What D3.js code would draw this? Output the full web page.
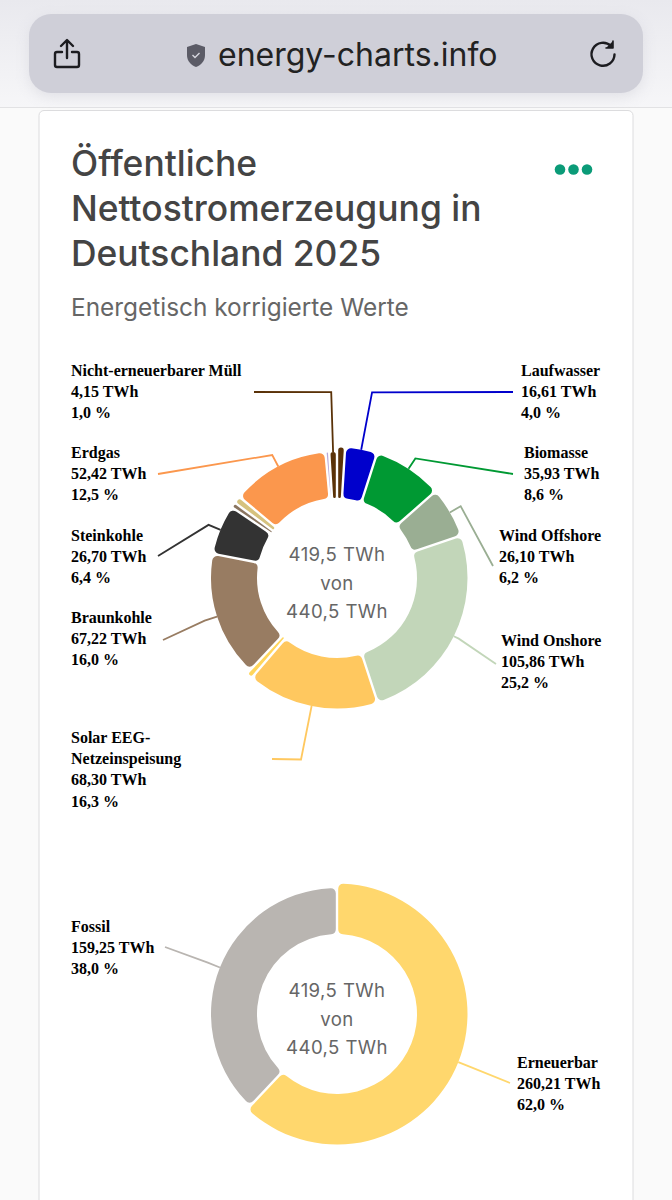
<!DOCTYPE html>
<html lang="de">
<head>
<meta charset="utf-8">
<title>Öffentliche Nettostromerzeugung in Deutschland 2025</title>
<script src="https://cdn.jsdelivr.net/npm/d3@7"></script>
<style>
  html, body { margin: 0; padding: 0; background: #fafafa; }
  svg { display: block; }
  .ui { font-family: Inter, "Noto Sans", sans-serif; }
  .label { font-family: "Liberation Serif", serif; font-weight: bold; font-size: 16px; fill: #000; }
</style>
</head>
<body>
<div id="chart"></div>
<script>
// values, the unlabelled slivers are estimates
var mixCategories = ["Müll biogen", "Laufwasser", "Biomasse", "Wind Offshore", "Wind Onshore", "Solar EEG-Netzeinspeisung", "Geothermie", "Braunkohle", "Steinkohle", "Öl", "Kuppelgase", "Erdgas", "Andere", "Nicht-erneuerbarer Müll"];
var mixValues = [4.15, 16.61, 35.93, 26.10, 105.86, 68.30, 3.26, 67.22, 26.70, 2.86, 3.90, 52.42, 2.00, 4.15];
var mixShares = [1.0, 4.0, 8.6, 6.2, 25.2, 16.3, 0.8, 16.0, 6.4, 0.7, 0.9, 12.5, 0.5, 1.0];
var mixRenewable = [true, true, true, true, true, true, true, false, false, false, false, false, false, false];
var mixColors = ["#5a3208", "#0000cc", "#009933", "#9aae93", "#c2d6b9", "#ffc85f", "#ffd65c", "#987c62", "#333333", "#8a7560", "#d6c27e", "#fb974d", "#b9a8d8", "#5a3208"];

var sumCategories = ["Erneuerbar", "Fossil"];
var sumValues = [260.21, 159.25];
var sumShares = [62.0, 38.0];
var sumRenewable = [true, false];
var sumColors = ["#ffd76d", "#b9b5b1"];

var centerLines = ["419,5 TWh", "von", "440,5 TWh"];
var titleLines = ["Öffentliche", "Nettostromerzeugung in", "Deutschland 2025"];

// where each label sits and how its leader runs
var mixLayout = {
  "Nicht-erneuerbarer Müll": { x: 71, y: 376, elbow: 186, endX: 254, endY: 392, lines: ["Nicht-erneuerbarer Müll"] },
  "Erdgas": { x: 71, y: 458, elbow: 139, endX: 158, endY: 474 },
  "Steinkohle": { x: 71, y: 541, elbow: 139, endX: 158, endY: 556 },
  "Braunkohle": { x: 71, y: 623, elbow: 139, endX: 163, endY: 640 },
  "Solar EEG-Netzeinspeisung": { x: 71, y: 743, elbow: 185, endX: 272, endY: 759, lines: ["Solar EEG-", "Netzeinspeisung"] },
  "Laufwasser": { x: 521, y: 376, elbow: 189, endX: 513, endY: 392 },
  "Biomasse": { x: 524, y: 458, elbow: 143, endX: 513, endY: 474 },
  "Wind Offshore": { x: 499, y: 541, elbow: 143, endX: 493, endY: 566 },
  "Wind Onshore": { x: 501, y: 646, elbow: 136, endX: 496, endY: 664 }
};
var sumLayout = {
  "Fossil": { x: 71, y: 932, elbow: 139, endX: 165, endY: 947 },
  "Erneuerbar": { x: 517, y: 1068, elbow: 144, endX: 510, endY: 1083 }
};

var width = 672, height = 1200;
var innerR = 80, outerRenewable = 130.5, outerFossil = 126;
var labelStep = 21.2;

var de = d3.formatLocale({ decimal: ",", thousands: ".", grouping: [3], currency: ["", " €"] });
var fmtValue = de.format(".2f"), fmtShare = de.format(".1f");

var svg = d3.select("#chart").append("svg")
  .attr("width", width)
  .attr("height", height)
  .attr("viewBox", "0 0 " + width + " " + height);

drawChrome();
drawDonut(mixCategories, mixValues, mixShares, mixRenewable, mixColors, mixLayout, 337, 578);
drawDonut(sumCategories, sumValues, sumShares, sumRenewable, sumColors, sumLayout, 337, 1014);

function drawDonut(categories, values, shares, renewable, colors, layout, cx, cy) {
  var pie = d3.pie().sort(null).value(function(d) { return d; });
  var slices = pie(values);
  var arc = d3.arc()
    .innerRadius(innerR)
    .outerRadius(function(d) { return renewable[d.index] ? outerRenewable : outerFossil; })
    .cornerRadius(5)
    .padAngle(0.024)
    .padRadius(100);

  var g = svg.append("g").attr("transform", "translate(" + cx + "," + cy + ")");

  g.selectAll("path.slice")
    .data(slices)
    .enter()
    .append("path")
    .attr("class", "slice")
    .attr("d", arc)
    .attr("fill", function(d) { return colors[d.index]; });

  // leaders start on the rim at the slice's middle angle
  var rim = function(angle, r) {
    return [r * Math.sin(angle), -r * Math.cos(angle)];
  };
  var line = d3.line();

  slices.forEach(function(d) {
    var name = categories[d.index];
    var spot = layout[name];
    if (!spot) return;
    var mid = (d.startAngle + d.endAngle) / 2;
    var r = renewable[d.index] ? outerRenewable : outerFossil;

    g.append("path")
      .attr("d", line([rim(mid, r), rim(mid, spot.elbow), [spot.endX - cx, spot.endY - cy]]))
      .attr("fill", "none")
      .attr("stroke", colors[d.index])
      .attr("stroke-width", 1.8);

    var text = (spot.lines || [name]).concat([fmtValue(values[d.index]) + " TWh", fmtShare(shares[d.index]) + " %"]);
    svg.append("text")
      .attr("class", "label")
      .selectAll("tspan")
      .data(text)
      .enter()
      .append("tspan")
      .attr("x", spot.x)
      .attr("y", function(t, i) { return spot.y + i * labelStep; })
      .text(function(t) { return t; });
  });

  [-24, 5, 33].forEach(function(dy, i) {
    g.append("text")
      .attr("class", "ui")
      .attr("x", 0)
      .attr("y", dy + 7)
      .attr("text-anchor", "middle")
      .attr("font-size", 18.6)
      .attr("letter-spacing", 0.4)
      .attr("fill", "#666")
      .text(centerLines[i]);
  });
}

function drawChrome() {
  var defs = svg.append("defs");
  var top = defs.append("linearGradient").attr("id", "topBg").attr("x1", 0).attr("x2", 0).attr("y1", 0).attr("y2", 1);
  top.append("stop").attr("offset", 0).attr("stop-color", "#e9e9ee");
  top.append("stop").attr("offset", 1).attr("stop-color", "#f6f6f8");
  var blur = defs.append("filter").attr("id", "soft").attr("x", "-10%").attr("y", "-30%").attr("width", "120%").attr("height", "160%");
  blur.append("feGaussianBlur").attr("stdDeviation", 7);

  svg.append("rect").attr("width", width).attr("height", 107).attr("fill", "url(#topBg)");
  svg.append("rect").attr("y", 107).attr("width", width).attr("height", 1).attr("fill", "#e2e2e4");
  svg.append("rect").attr("x", 29).attr("y", 18).attr("width", 614).attr("height", 79).attr("rx", 22)
    .attr("fill", "#c9c9d2").attr("opacity", 0.45).attr("filter", "url(#soft)");
  svg.append("rect").attr("x", 29).attr("y", 14).attr("width", 614).attr("height", 79).attr("rx", 22).attr("fill", "#cfcfd8");

  // share icon
  var icon = svg.append("g").attr("fill", "none").attr("stroke", "#1c1c20").attr("stroke-width", 2.4)
    .attr("stroke-linecap", "round").attr("stroke-linejoin", "round");
  icon.append("path").attr("d", "M62 52h-5a2 2 0 0 0-2 2v11a2 2 0 0 0 2 2h20a2 2 0 0 0 2-2V54a2 2 0 0 0-2-2h-5");
  icon.append("path").attr("d", "M67 58V41M61 46l6-6 6 6");

  // reload icon
  icon.append("path").attr("d", "M611 46a11.5 11.5 0 1 0 3.5 8.500");
  icon.append("path").attr("d", "M613 41v7h-7").attr("fill", "#1c1c20").attr("stroke-width", 1.6);

  // shield
  svg.append("path").attr("d", "M196 44l9 3v8c0 6-4 10-9 12-5-2-9-6-9-12v-8z").attr("fill", "#5b5b66");
  svg.append("path").attr("d", "M192.500 55l2.500 2.500 4.500-4.500").attr("fill", "none").attr("stroke", "#d6d6de").attr("stroke-width", 1.4);

  svg.append("text").attr("class", "ui").attr("x", 218).attr("y", 66)
    .attr("font-size", 32).attr("fill", "#222").text("energy-charts.info");

  // card
  svg.append("rect").attr("x", 39).attr("y", 110.5).attr("width", 594).attr("height", 1120).attr("rx", 5)
    .attr("fill", "#fff").attr("stroke", "#dcdcde");

  titleLines.forEach(function(t, i) {
    svg.append("text").attr("class", "ui").attr("x", 71).attr("y", 176 + i * 45)
      .attr("font-size", 35.4).attr("font-weight", 500).attr("fill", "#444").text(t);
  });
  svg.append("text").attr("class", "ui").attr("x", 71).attr("y", 316)
    .attr("font-size", 24.4).attr("fill", "#666").text("Energetisch korrigierte Werte");

  [560, 573.500, 587].forEach(function(x) {
    svg.append("circle").attr("cx", x).attr("cy", 169.500).attr("r", 5.300).attr("fill", "#0b9b78");
  });
}
</script>
</body>
</html>
